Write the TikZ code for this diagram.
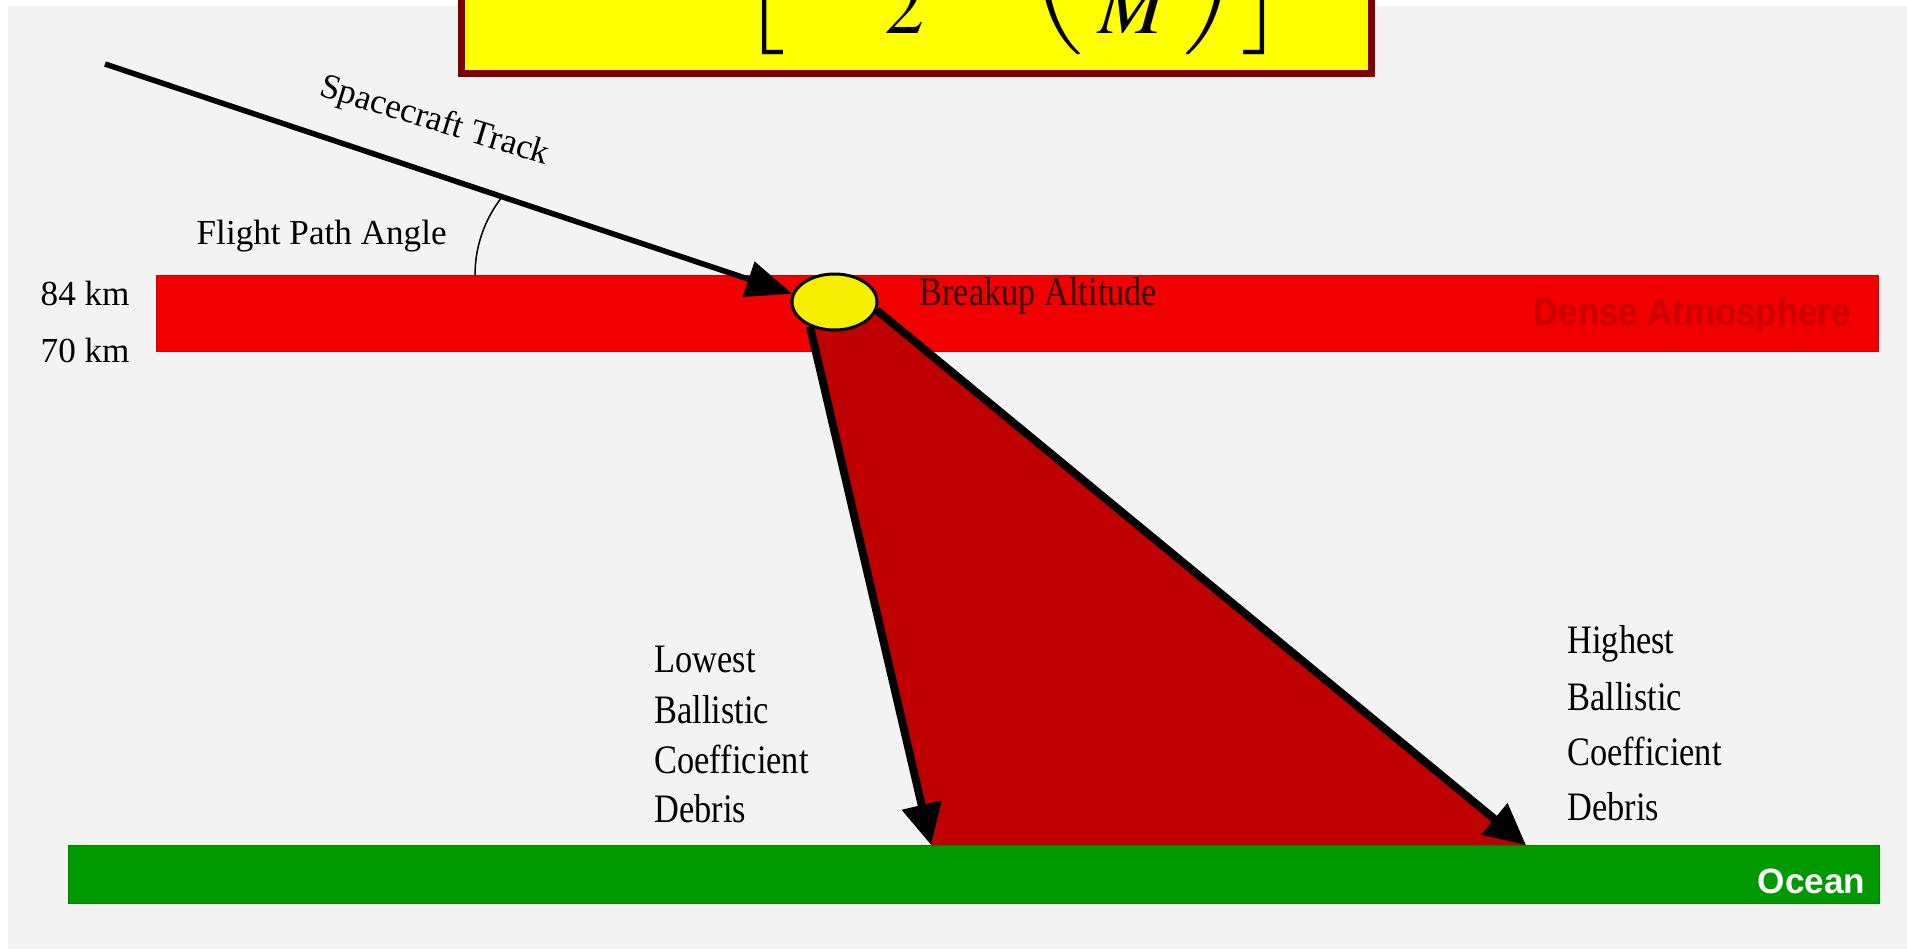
\documentclass[tikz,border=0pt]{standalone}
\usepackage{mathptmx}
\usepackage{fontspec}
\setmainfont{Liberation Serif}
\newfontfamily\labelsans{Liberation Sans}
\usetikzlibrary{arrows.meta,shapes.geometric,backgrounds}
\definecolor{bggray}{RGB}{243,243,243}
\definecolor{bandred}{RGB}{240,0,0}
\definecolor{bandedge}{RGB}{215,0,0}
\definecolor{debrisred}{RGB}{190,0,0}
\definecolor{oceangreen}{RGB}{0,153,0}
\definecolor{oceanedge}{RGB}{0,130,0}
\definecolor{boxyellow}{RGB}{255,255,0}
\definecolor{boxborder}{RGB}{128,0,0}
\definecolor{blobyellow}{RGB}{245,240,0}
\definecolor{densetext}{RGB}{205,0,0}
\definecolor{breakuptext}{RGB}{50,0,0}
\begin{document}
\begin{tikzpicture}[x=0.1mm,y=-0.1mm,
  seriften/.style={font=\fontsize{10}{12}\selectfont, inner sep=0, text=black},
  tallserif/.style={font=\fontsize{11.5}{13}\selectfont, inner sep=0, xscale=0.85, text=black},
  trackarrow/.style={line width=0.55mm, -{Triangle[length=4.6mm,width=3.6mm]}},
  debrisarrow/.style={line width=0.8mm, -{Triangle[length=4.1mm,width=3.9mm]}},
  sanslabel/.style={inner sep=0, font=\labelsans\bfseries\fontsize{10}{12}\selectfont}
]
\useasboundingbox (0,0) rectangle (1907,949);
\clip (0,0) rectangle (1907,949);

% breakup blob (on top of debris arrows)
\node[ellipse, draw=black, line width=0.3mm, fill=blobyellow,
      minimum width=8.5mm, minimum height=5.6mm, inner sep=0] (breakup) at (834.5,302) {};
\coordinate (trackstart) at (105,64);
\coordinate (lowhit) at (931,845);
\coordinate (highhit) at (1526,845);

\begin{pgfonlayer}{background}
  \fill[white] (0,0) rectangle (1907,949);
  \fill[bggray] (8,6) rectangle (1907,949);
  % dense atmosphere band
  \filldraw[fill=bandred, draw=bandedge, line width=0.1mm] (156,275) rectangle (1878,351);
  % ocean band
  \filldraw[fill=oceangreen, draw=oceanedge, line width=0.1mm] (68,845) rectangle (1879,903);
  % debris footprint
  \fill[debrisred] (breakup.225) -- (lowhit) -- (highhit) -- (breakup.349) -- (breakup.center) -- cycle;
  \draw[debrisarrow] (breakup.225) -- (lowhit);
  \draw[debrisarrow] (breakup.349) -- (highhit);
  % spacecraft track
  \draw[trackarrow] (trackstart) -- (breakup.169);
  % flight path angle arc
  \draw[line width=0.15mm] (475,275) arc[start angle=180, end angle=218.2, radius=126.2];
\end{pgfonlayer}

% formula box (cut by the top edge)
\draw[line width=0.7mm, draw=boxborder, fill=boxyellow] (461.5,-40) rectangle (1371.5,73.5);
\node[anchor=south east, inner sep=0, font=\fontsize{22.7}{27}\selectfont] (formula) at (1285,55)
  {$\displaystyle \left[\,\frac{\rho_\infty V_\infty^{2} S}{2}\left(\frac{C_D}{M}\right)\right]$};

% labels
\node[seriften, anchor=base west] (lbleightyfour) at (40,305) {84 km};
\node[seriften, anchor=base west] (lblseventy) at (40,362) {70 km};
\node[seriften, anchor=base west] (fpa) at (196,245) {Flight Path Angle};
\node[seriften, anchor=base, rotate=-17] (sctrack) at (432,130) {Spacecraft Track};
\node[tallserif, text=breakuptext, anchor=base west] (balt) at (919,305) {Breakup Altitude};
\node[sanslabel, font=\labelsans\bfseries\fontsize{11}{13}\selectfont, text=densetext, xscale=0.9, anchor=base west] (dense) at (1533,325) {Dense Atmosphere};
\node[sanslabel, text=white, anchor=base east] (oceanlbl) at (1866,893) {Ocean};

\node[tallserif, anchor=base west] (lowa) at (654,672) {Lowest};
\node[tallserif, anchor=base west] (lowb) at (654,723) {Ballistic};
\node[tallserif, anchor=base west] (lowc) at (654,773) {Coefficient};
\node[tallserif, anchor=base west] (lowd) at (654,822) {Debris};

\node[tallserif, anchor=base west] (higha) at (1567,653) {Highest};
\node[tallserif, anchor=base west] (highb) at (1567,710) {Ballistic};
\node[tallserif, anchor=base west] (highc) at (1567,765) {Coefficient};
\node[tallserif, anchor=base west] (highd) at (1567,820) {Debris};
\end{tikzpicture}
\end{document}
